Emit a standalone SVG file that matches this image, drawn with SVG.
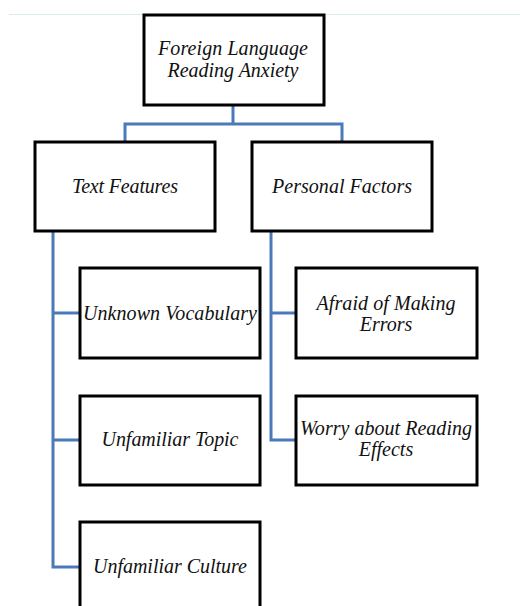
<svg xmlns="http://www.w3.org/2000/svg" width="520" height="606" viewBox="0 0 520 606">
<style>
.box{fill:#fff;stroke:#000;stroke-width:3}
.t{font-family:"Liberation Serif","Times New Roman",serif;font-style:italic;font-size:20px;fill:#111;text-anchor:middle}
.c{fill:none;stroke:#4a7ab8;stroke-width:3}
</style>
<rect width="520" height="606" fill="#fff"/>
<line x1="9" y1="14.5" x2="520" y2="14.5" stroke="#d9eedd" stroke-width="1"/>
<g id="connectors">
<path class="c" d="M233 106V124M125 144V124H342V144"/>
<path class="c" d="M53 231V567H80M53 313H80M53 440H80"/>
<path class="c" d="M271 231V440H296M271 313H296"/>
</g>
<g id="root"><rect class="box" x="144" y="15" width="180" height="90"/>
<text class="t" x="233" y="55" textLength="150">Foreign Language</text>
<text class="t" x="233" y="77" textLength="131">Reading Anxiety</text></g>
<g id="text-features"><rect class="box" x="35" y="142" width="180" height="89"/>
<text class="t" x="125" y="193" textLength="106">Text Features</text></g>
<g id="personal-factors"><rect class="box" x="252" y="142" width="180" height="89"/>
<text class="t" x="342" y="193" textLength="140">Personal Factors</text></g>
<g id="unknown-vocabulary"><rect class="box" x="80" y="268" width="180" height="90"/>
<text class="t" x="170" y="320" textLength="174">Unknown Vocabulary</text></g>
<g id="unfamiliar-topic"><rect class="box" x="80" y="396" width="180" height="89"/>
<text class="t" x="170" y="446" textLength="137">Unfamiliar Topic</text></g>
<g id="unfamiliar-culture"><rect class="box" x="80" y="522" width="180" height="100"/>
<text class="t" x="170" y="573" textLength="154">Unfamiliar Culture</text></g>
<g id="afraid-errors"><rect class="box" x="296" y="268" width="181" height="90"/>
<text class="t" x="386" y="310" textLength="139">Afraid of Making</text>
<text class="t" x="386" y="331">Errors</text></g>
<g id="worry-effects"><rect class="box" x="296" y="396" width="181" height="89"/>
<text class="t" x="386" y="435" textLength="172">Worry about Reading</text>
<text class="t" x="386" y="456">Effects</text></g>
</svg>
